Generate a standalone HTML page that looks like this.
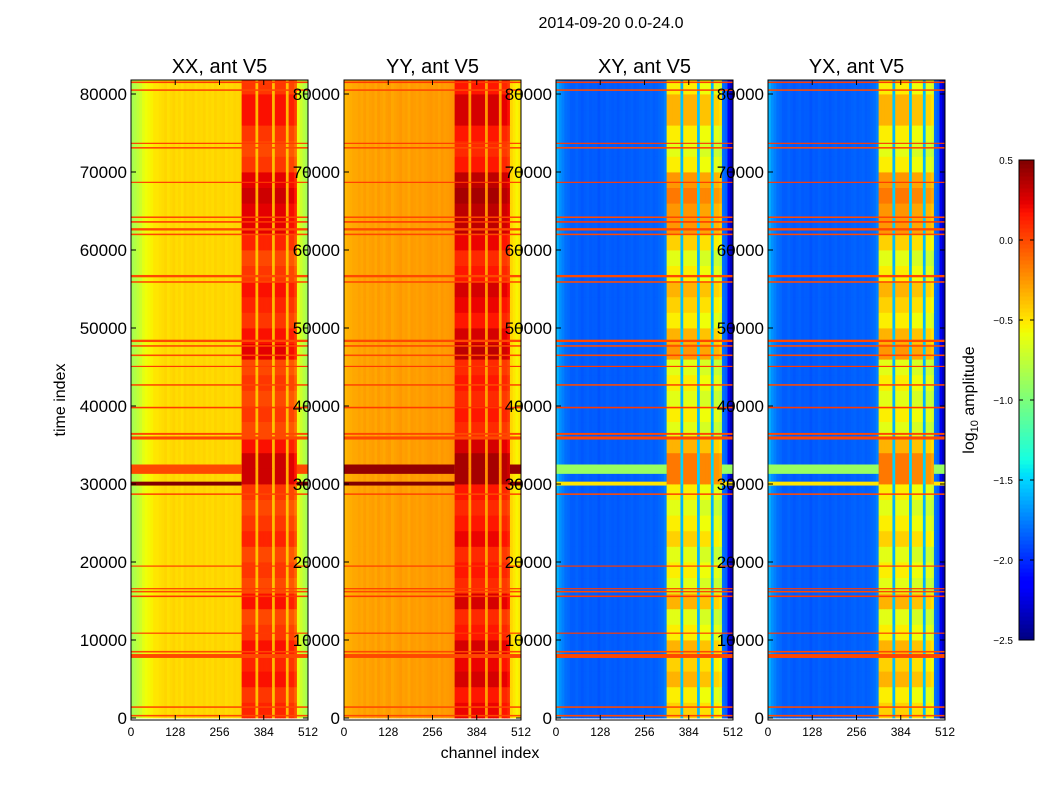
<!DOCTYPE html>
<html><head><meta charset="utf-8"><style>
body{margin:0;background:#fff;}
svg{display:block;font-family:"Liberation Sans","DejaVu Sans",sans-serif;}
</style></head><body>
<svg id="fig" width="1050" height="800" viewBox="0 0 1050 800">
<rect width="1050" height="800" fill="#fff"/>
<text x="611" y="28" font-size="16" text-anchor="middle">2014-09-20 0.0-24.0</text>
<text x="490" y="758" font-size="16" text-anchor="middle">channel index</text>
<text transform="translate(65,400) rotate(-90)" font-size="16" text-anchor="middle">time index</text>
<text transform="translate(974,400) rotate(-90)" font-size="16" text-anchor="middle">log<tspan font-size="11" dy="4">10</tspan><tspan dy="-4"> amplitude</tspan></text>
<g id="panels"></g>
<g id="cbar"></g>
</svg>
<script>
// ---- data ----
const panelTitles = ["XX, ant V5","YY, ant V5","XY, ant V5","YX, ant V5"];
const xTicks = [0,128,256,384,512];
const yTicks = [0,10000,20000,30000,40000,50000,60000,70000,80000];
const cbTicks = [-2.5,-2.0,-1.5,-1.0,-0.5,0.0,0.5];
const timeBinSize = 2000;
// burst intensity per 2000-sample time bin (0..1)
const burst = [0.7,0.6,0.8,0.7,0.8,0.6,0.5,0.8,0.5,0.6,0.5,0.7,0.6,0.5,0.6,1.0,1.0,0.8,0.5,0.6,0.5,0.6,0.5,0.9,0.8,0.6,0.7,0.8,0.6,0.5,0.7,0.9,0.9,1.0,0.9,0.6,0.5,0.6,0.8,0.8,0.6];
// burst gain per 8-channel bin
const burstGain = [0,0,0,0,0,0,0,0,0,0,0,0,0,0,0,0,0,0,0,0,0,0,0,0,0,0,0,0,0,0,0,0,
0,0,0,0,0,0,0,0,1,1,1,1,1,0.2,1,1,1,1,1,0.2,1,1,1,1,0.2,1,1,1,0,0,0,0];
const baseXX = [-0.85,-0.8,-0.75,-0.7,-0.62,-0.58,-0.56,-0.54,-0.5,-0.5,-0.48,-0.47,-0.45,-0.48,-0.46,-0.44,-0.47,-0.45,-0.48,-0.44,-0.46,-0.45,-0.44,-0.47,-0.45,-0.46,-0.44,-0.47,-0.45,-0.47,-0.44,-0.46,
-0.45,-0.44,-0.47,-0.45,-0.46,-0.44,-0.45,-0.44,-0.3,-0.3,-0.3,-0.3,-0.3,-0.45,-0.3,-0.3,-0.3,-0.3,-0.3,-0.45,-0.3,-0.3,-0.3,-0.3,-0.45,-0.35,-0.35,-0.45,-0.6,-0.7,-0.78,-0.85];
const baseYY = [-0.35,-0.33,-0.32,-0.3,-0.3,-0.28,-0.3,-0.27,-0.3,-0.28,-0.27,-0.3,-0.26,-0.28,-0.3,-0.27,-0.26,-0.3,-0.28,-0.27,-0.25,-0.28,-0.27,-0.3,-0.26,-0.27,-0.28,-0.26,-0.28,-0.27,-0.26,-0.25,
-0.27,-0.26,-0.28,-0.25,-0.27,-0.26,-0.25,-0.24,-0.2,-0.2,-0.2,-0.2,-0.2,-0.35,-0.2,-0.2,-0.2,-0.2,-0.2,-0.35,-0.2,-0.2,-0.2,-0.2,-0.35,-0.25,-0.25,-0.3,-0.45,-0.5,-0.55,-0.5];
const baseXY = [-1.6,-1.7,-1.75,-1.8,-1.82,-1.85,-1.85,-1.83,-1.85,-1.87,-1.85,-1.84,-1.86,-1.85,-1.85,-1.88,-1.85,-1.86,-1.84,-1.85,-1.86,-1.85,-1.87,-1.85,-1.84,-1.86,-1.85,-1.84,-1.86,-1.85,-1.84,-1.83,
-1.85,-1.84,-1.83,-1.85,-1.84,-1.82,-1.8,-1.75,-1.1,-1.1,-1.1,-1.1,-1.1,-1.7,-1.1,-1.1,-1.1,-1.1,-1.1,-1.7,-1.15,-1.15,-1.15,-1.15,-1.7,-1.2,-1.2,-1.25,-1.8,-1.85,-2.2,-2.35];
const baseYX = [-1.6,-1.7,-1.75,-1.8,-1.82,-1.85,-1.85,-1.83,-1.85,-1.87,-1.85,-1.84,-1.86,-1.85,-1.85,-1.88,-1.85,-1.86,-1.84,-1.85,-1.86,-1.85,-1.87,-1.85,-1.84,-1.86,-1.85,-1.84,-1.86,-1.85,-1.84,-1.83,
-1.85,-1.84,-1.83,-1.85,-1.84,-1.82,-1.8,-1.75,-1.1,-1.1,-1.1,-1.1,-1.1,-1.7,-1.1,-1.1,-1.1,-1.1,-1.1,-1.7,-1.15,-1.15,-1.15,-1.15,-1.7,-1.2,-1.2,-1.25,-1.8,-1.85,-2.2,-2.35];
const burstAmp = [0.6,0.6,0.95,0.95];
// flagged time rows (start time, duration, log amplitude)
const flagTimes = [200,1300,7700,8400,10800,15500,16100,16500,19400,28600,35700,36300,39700,42600,45000,46400,47600,48200,55800,56500,61900,62500,63500,64100,68600,73000,73600,80400,81400];
const flagDur =   [200,200,500,200,150,200,200,150,150,200,400,250,200,200,150,200,200,300,200,300,200,300,200,200,150,200,150,200,200];
const flagVal =   [0.0,0.0,0.0,0.0,0.05,0.05,0.0,0.05,0.05,0.0,0.0,0.0,0.05,0.0,0.05,0.0,0.0,0.0,0.0,0.0,0.0,0.0,0.05,0.0,0.05,0.0,0.05,0.0,0.05];
// strong RFI band (XX/YY dark red, XY/YX yellow)
const bandStart = [29800,31300];
const bandDur = [500,1200];
const bandVal = [[0.5,0.0],[0.5,0.45],[-0.5,-0.9],[-0.5,-0.9]];

// ---- geometry ----
const panelX = [131,344,556,768];
const panelW = 177, plotTop = 80, plotBot = 720, ymax = 81795, ymin = -256;
function yS(t){return plotBot-(t-ymin)/(ymax-ymin)*(plotBot-plotTop);}
const jr=[[0,0],[0.35,0],[0.66,1],[0.89,1],[1,0.5]];
const jg=[[0,0],[0.125,0],[0.375,1],[0.64,1],[0.91,0],[1,0]];
const jb=[[0,0.5],[0.11,1],[0.34,1],[0.65,0],[1,0]];
function seg(s,x){for(let i=1;i<s.length;i++){if(x<=s[i][0]){const a=s[i-1],b=s[i];return a[1]+(b[1]-a[1])*(x-a[0])/(b[0]-a[0]);}}return s[s.length-1][1];}
function jet(v){
  let x=(v+2.5)/3; x=Math.max(0,Math.min(1,x));
  return `rgb(${Math.round(seg(jr,x)*255)},${Math.round(seg(jg,x)*255)},${Math.round(seg(jb,x)*255)})`;
}
const NS="http://www.w3.org/2000/svg";
function mk(tag,attrs,parent){const e=document.createElementNS(NS,tag);for(const k in attrs)e.setAttribute(k,attrs[k]);parent.appendChild(e);return e;}
const bases=[baseXX,baseYY,baseXY,baseYX];
const panels=document.getElementById('panels');
for(let p=0;p<4;p++){
  const x0=panelX[p]; const xS=c=>x0+c/512*panelW;
  const g=mk('g',{},panels);
  
  
  const base=bases[p];
  for(let t=0;t<burst.length;t++){
    const t0=t*timeBinSize, t1=Math.min((t+1)*timeBinSize,ymax);
    const ya=yS(t1), yb=yS(Math.max(t0,ymin));
    for(let c=0;c<base.length;c++){
      const v=base[c]+burstGain[c]*burstAmp[p]*burst[t];
      const r=mk('rect',{x:xS(c*8),y:ya,width:xS(c*8+8)-xS(c*8)+0.4,height:yb-ya+0.4,fill:jet(v)},g);
      
      
    }
  }
  for(let i=0;i<bandStart.length;i++){
    const ya=yS(bandStart[i]+bandDur[i]), yb=yS(bandStart[i]);
    const rb=mk('rect',{x:x0,y:ya,width:xS(320)-x0,height:yb-ya,fill:jet(bandVal[p][i])},g);
    
    
    const rc=mk('rect',{x:xS(480),y:ya,width:xS(512)-xS(480),height:yb-ya,fill:jet(bandVal[p][i])},g);
    
    
  }
  for(let i=0;i<flagTimes.length;i++){
    const ya=yS(flagTimes[i]+flagDur[i]), yb=yS(flagTimes[i]);
    const r=mk('rect',{x:x0,y:ya,width:panelW,height:Math.max(1,yb-ya),fill:jet(flagVal[i])},g);
    
    
  }
  const fr=mk('rect',{x:x0,y:plotTop,width:panelW,height:plotBot-plotTop,fill:'none',stroke:'#000','stroke-width':1},g);
  
  
  const tt=mk('text',{x:x0+panelW/2,y:73,'font-size':20,'text-anchor':'middle'},g);
  tt.textContent=panelTitles[p];
  
  
  xTicks.forEach(v=>{
    const X=xS(v);
    mk('line',{x1:X,x2:X,y1:plotBot,y2:plotBot-5,stroke:'#000'},g);
    mk('line',{x1:X,x2:X,y1:plotTop,y2:plotTop+5,stroke:'#000'},g);
    const l=mk('text',{x:X,y:736,'font-size':12,'text-anchor':'middle'},g);
    l.textContent=v;
    
    
  });
  yTicks.forEach(v=>{
    const Y=yS(v);
    mk('line',{x1:x0,x2:x0+5,y1:Y,y2:Y,stroke:'#000'},g);
    mk('line',{x1:x0+panelW,x2:x0+panelW-5,y1:Y,y2:Y,stroke:'#000'},g);
    const l=mk('text',{x:x0-4,y:Y+6,'font-size':17,'text-anchor':'end'},g);
    l.textContent=v;
    
    
  });
}
// colorbar
const cb=document.getElementById('cbar');
const cbTop=160, cbBot=640, cbX=1019, cbW=15;
const cbY=v=>cbBot-(v+2.5)/3*(cbBot-cbTop);
for(let i=0;i<120;i++){
  const v=-2.5+3*(i+0.5)/120;
  const r=mk('rect',{x:cbX,y:cbY(-2.5+3*(i+1)/120),width:cbW,height:(cbBot-cbTop)/120+0.5,fill:jet(v)},cb);
  
  
}
const cf=mk('rect',{x:cbX,y:cbTop,width:cbW,height:cbBot-cbTop,fill:'none',stroke:'#000'},cb);


cbTicks.forEach(v=>{
  const Y=cbY(v);
  mk('line',{x1:cbX,x2:cbX+4,y1:Y,y2:Y,stroke:'#000'},cb);
  mk('line',{x1:cbX+cbW,x2:cbX+cbW-4,y1:Y,y2:Y,stroke:'#000'},cb);
  const l=mk('text',{x:1013,y:Y+4,'font-size':10,'text-anchor':'end'},cb);
  l.textContent=v.toFixed(1).replace('-','\u2212');
  
  
});
</script>
</body></html>
